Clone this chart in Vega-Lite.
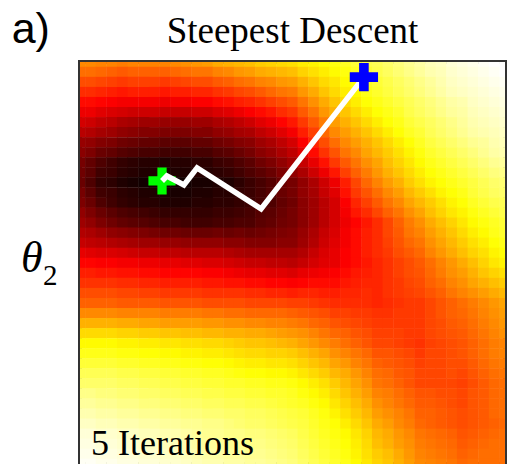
{
"$schema":"https://vega.github.io/schema/vega-lite/v6.json",
"width":425,"height":402,
"autosize":{"type":"none"},
"padding":{"left":80,"top":62,"right":3,"bottom":0},
"background":"white",
"config":{"view":{"stroke":"#333","strokeWidth":4}},
"datasets":{
"grid":[
{"x":0,"y":40,"z":57},{"x":1,"y":40,"z":57},{"x":2,"y":40,"z":56},{"x":3,"y":40,"z":56},{"x":4,"y":40,"z":55},{"x":5,"y":40,"z":56},{"x":6,"y":40,"z":56},{"x":7,"y":40,"z":56},{"x":8,"y":40,"z":56},{"x":9,"y":40,"z":57},{"x":10,"y":40,"z":58},{"x":11,"y":40,"z":59},{"x":12,"y":40,"z":60},{"x":13,"y":40,"z":62},{"x":14,"y":40,"z":63},{"x":15,"y":40,"z":64},{"x":16,"y":40,"z":65},{"x":17,"y":40,"z":67},{"x":18,"y":40,"z":68},{"x":19,"y":40,"z":69},{"x":20,"y":40,"z":70},{"x":21,"y":40,"z":72},{"x":22,"y":40,"z":73},{"x":23,"y":40,"z":75},{"x":24,"y":40,"z":76},{"x":25,"y":40,"z":78},{"x":26,"y":40,"z":80},{"x":27,"y":40,"z":82},{"x":28,"y":40,"z":83},{"x":29,"y":40,"z":85},{"x":30,"y":40,"z":87},{"x":31,"y":40,"z":89},{"x":32,"y":40,"z":91},{"x":33,"y":40,"z":93},{"x":34,"y":40,"z":94},{"x":35,"y":40,"z":96},{"x":36,"y":40,"z":97},{"x":37,"y":40,"z":98},{"x":38,"y":40,"z":99},{"x":39,"y":40,"z":100},{"x":40,"y":40,"z":100},
{"x":0,"y":39,"z":53},{"x":1,"y":39,"z":53},{"x":2,"y":39,"z":52},{"x":3,"y":39,"z":51},{"x":4,"y":39,"z":50},{"x":5,"y":39,"z":51},{"x":6,"y":39,"z":51},{"x":7,"y":39,"z":51},{"x":8,"y":39,"z":51},{"x":9,"y":39,"z":52},{"x":10,"y":39,"z":53},{"x":11,"y":39,"z":54},{"x":12,"y":39,"z":54},{"x":13,"y":39,"z":56},{"x":14,"y":39,"z":57},{"x":15,"y":39,"z":59},{"x":16,"y":39,"z":60},{"x":17,"y":39,"z":62},{"x":18,"y":39,"z":63},{"x":19,"y":39,"z":64},{"x":20,"y":39,"z":65},{"x":21,"y":39,"z":68},{"x":22,"y":39,"z":70},{"x":23,"y":39,"z":72},{"x":24,"y":39,"z":74},{"x":25,"y":39,"z":76},{"x":26,"y":39,"z":78},{"x":27,"y":39,"z":80},{"x":28,"y":39,"z":82},{"x":29,"y":39,"z":84},{"x":30,"y":39,"z":86},{"x":31,"y":39,"z":88},{"x":32,"y":39,"z":90},{"x":33,"y":39,"z":92},{"x":34,"y":39,"z":93},{"x":35,"y":39,"z":95},{"x":36,"y":39,"z":96},{"x":37,"y":39,"z":97},{"x":38,"y":39,"z":98},{"x":39,"y":39,"z":99},{"x":40,"y":39,"z":100},
{"x":0,"y":38,"z":48},{"x":1,"y":38,"z":48},{"x":2,"y":38,"z":47},{"x":3,"y":38,"z":46},{"x":4,"y":38,"z":45},{"x":5,"y":38,"z":46},{"x":6,"y":38,"z":46},{"x":7,"y":38,"z":46},{"x":8,"y":38,"z":45},{"x":9,"y":38,"z":46},{"x":10,"y":38,"z":47},{"x":11,"y":38,"z":48},{"x":12,"y":38,"z":48},{"x":13,"y":38,"z":50},{"x":14,"y":38,"z":51},{"x":15,"y":38,"z":53},{"x":16,"y":38,"z":54},{"x":17,"y":38,"z":56},{"x":18,"y":38,"z":57},{"x":19,"y":38,"z":59},{"x":20,"y":38,"z":60},{"x":21,"y":38,"z":63},{"x":22,"y":38,"z":66},{"x":23,"y":38,"z":69},{"x":24,"y":38,"z":71},{"x":25,"y":38,"z":74},{"x":26,"y":38,"z":76},{"x":27,"y":38,"z":78},{"x":28,"y":38,"z":80},{"x":29,"y":38,"z":82},{"x":30,"y":38,"z":84},{"x":31,"y":38,"z":86},{"x":32,"y":38,"z":88},{"x":33,"y":38,"z":90},{"x":34,"y":38,"z":92},{"x":35,"y":38,"z":94},{"x":36,"y":38,"z":95},{"x":37,"y":38,"z":96},{"x":38,"y":38,"z":97},{"x":39,"y":38,"z":98},{"x":40,"y":38,"z":99},
{"x":0,"y":37,"z":43},{"x":1,"y":37,"z":43},{"x":2,"y":37,"z":42},{"x":3,"y":37,"z":41},{"x":4,"y":37,"z":40},{"x":5,"y":37,"z":41},{"x":6,"y":37,"z":41},{"x":7,"y":37,"z":41},{"x":8,"y":37,"z":40},{"x":9,"y":37,"z":41},{"x":10,"y":37,"z":41},{"x":11,"y":37,"z":42},{"x":12,"y":37,"z":42},{"x":13,"y":37,"z":44},{"x":14,"y":37,"z":45},{"x":15,"y":37,"z":47},{"x":16,"y":37,"z":48},{"x":17,"y":37,"z":50},{"x":18,"y":37,"z":52},{"x":19,"y":37,"z":54},{"x":20,"y":37,"z":55},{"x":21,"y":37,"z":59},{"x":22,"y":37,"z":62},{"x":23,"y":37,"z":66},{"x":24,"y":37,"z":69},{"x":25,"y":37,"z":72},{"x":26,"y":37,"z":74},{"x":27,"y":37,"z":77},{"x":28,"y":37,"z":79},{"x":29,"y":37,"z":81},{"x":30,"y":37,"z":83},{"x":31,"y":37,"z":85},{"x":32,"y":37,"z":87},{"x":33,"y":37,"z":89},{"x":34,"y":37,"z":91},{"x":35,"y":37,"z":93},{"x":36,"y":37,"z":94},{"x":37,"y":37,"z":95},{"x":38,"y":37,"z":96},{"x":39,"y":37,"z":97},{"x":40,"y":37,"z":98},
{"x":0,"y":36,"z":38},{"x":1,"y":36,"z":38},{"x":2,"y":36,"z":37},{"x":3,"y":36,"z":36},{"x":4,"y":36,"z":35},{"x":5,"y":36,"z":35},{"x":6,"y":36,"z":35},{"x":7,"y":36,"z":35},{"x":8,"y":36,"z":34},{"x":9,"y":36,"z":35},{"x":10,"y":36,"z":35},{"x":11,"y":36,"z":36},{"x":12,"y":36,"z":36},{"x":13,"y":36,"z":38},{"x":14,"y":36,"z":39},{"x":15,"y":36,"z":41},{"x":16,"y":36,"z":42},{"x":17,"y":36,"z":44},{"x":18,"y":36,"z":46},{"x":19,"y":36,"z":48},{"x":20,"y":36,"z":50},{"x":21,"y":36,"z":54},{"x":22,"y":36,"z":58},{"x":23,"y":36,"z":62},{"x":24,"y":36,"z":66},{"x":25,"y":36,"z":69},{"x":26,"y":36,"z":72},{"x":27,"y":36,"z":75},{"x":28,"y":36,"z":77},{"x":29,"y":36,"z":79},{"x":30,"y":36,"z":81},{"x":31,"y":36,"z":83},{"x":32,"y":36,"z":85},{"x":33,"y":36,"z":87},{"x":34,"y":36,"z":89},{"x":35,"y":36,"z":91},{"x":36,"y":36,"z":92},{"x":37,"y":36,"z":94},{"x":38,"y":36,"z":95},{"x":39,"y":36,"z":96},{"x":40,"y":36,"z":97},
{"x":0,"y":35,"z":34},{"x":1,"y":35,"z":34},{"x":2,"y":35,"z":32},{"x":3,"y":35,"z":31},{"x":4,"y":35,"z":30},{"x":5,"y":35,"z":29},{"x":6,"y":35,"z":29},{"x":7,"y":35,"z":29},{"x":8,"y":35,"z":28},{"x":9,"y":35,"z":28},{"x":10,"y":35,"z":28},{"x":11,"y":35,"z":29},{"x":12,"y":35,"z":29},{"x":13,"y":35,"z":31},{"x":14,"y":35,"z":32},{"x":15,"y":35,"z":34},{"x":16,"y":35,"z":36},{"x":17,"y":35,"z":38},{"x":18,"y":35,"z":40},{"x":19,"y":35,"z":43},{"x":20,"y":35,"z":45},{"x":21,"y":35,"z":50},{"x":22,"y":35,"z":54},{"x":23,"y":35,"z":59},{"x":24,"y":35,"z":63},{"x":25,"y":35,"z":66},{"x":26,"y":35,"z":69},{"x":27,"y":35,"z":72},{"x":28,"y":35,"z":75},{"x":29,"y":35,"z":77},{"x":30,"y":35,"z":79},{"x":31,"y":35,"z":82},{"x":32,"y":35,"z":84},{"x":33,"y":35,"z":86},{"x":34,"y":35,"z":88},{"x":35,"y":35,"z":90},{"x":36,"y":35,"z":91},{"x":37,"y":35,"z":93},{"x":38,"y":35,"z":94},{"x":39,"y":35,"z":95},{"x":40,"y":35,"z":96},
{"x":0,"y":34,"z":30},{"x":1,"y":34,"z":29},{"x":2,"y":34,"z":27},{"x":3,"y":34,"z":26},{"x":4,"y":34,"z":24},{"x":5,"y":34,"z":23},{"x":6,"y":34,"z":22},{"x":7,"y":34,"z":22},{"x":8,"y":34,"z":21},{"x":9,"y":34,"z":21},{"x":10,"y":34,"z":21},{"x":11,"y":34,"z":22},{"x":12,"y":34,"z":22},{"x":13,"y":34,"z":24},{"x":14,"y":34,"z":25},{"x":15,"y":34,"z":27},{"x":16,"y":34,"z":29},{"x":17,"y":34,"z":32},{"x":18,"y":34,"z":34},{"x":19,"y":34,"z":37},{"x":20,"y":34,"z":40},{"x":21,"y":34,"z":45},{"x":22,"y":34,"z":50},{"x":23,"y":34,"z":55},{"x":24,"y":34,"z":60},{"x":25,"y":34,"z":63},{"x":26,"y":34,"z":66},{"x":27,"y":34,"z":69},{"x":28,"y":34,"z":72},{"x":29,"y":34,"z":75},{"x":30,"y":34,"z":77},{"x":31,"y":34,"z":80},{"x":32,"y":34,"z":82},{"x":33,"y":34,"z":84},{"x":34,"y":34,"z":86},{"x":35,"y":34,"z":88},{"x":36,"y":34,"z":90},{"x":37,"y":34,"z":92},{"x":38,"y":34,"z":93},{"x":39,"y":34,"z":94},{"x":40,"y":34,"z":95},
{"x":0,"y":33,"z":26},{"x":1,"y":33,"z":25},{"x":2,"y":33,"z":23},{"x":3,"y":33,"z":22},{"x":4,"y":33,"z":20},{"x":5,"y":33,"z":19},{"x":6,"y":33,"z":18},{"x":7,"y":33,"z":18},{"x":8,"y":33,"z":17},{"x":9,"y":33,"z":17},{"x":10,"y":33,"z":17},{"x":11,"y":33,"z":18},{"x":12,"y":33,"z":18},{"x":13,"y":33,"z":20},{"x":14,"y":33,"z":21},{"x":15,"y":33,"z":23},{"x":16,"y":33,"z":24},{"x":17,"y":33,"z":27},{"x":18,"y":33,"z":29},{"x":19,"y":33,"z":32},{"x":20,"y":33,"z":35},{"x":21,"y":33,"z":41},{"x":22,"y":33,"z":46},{"x":23,"y":33,"z":52},{"x":24,"y":33,"z":57},{"x":25,"y":33,"z":60},{"x":26,"y":33,"z":63},{"x":27,"y":33,"z":66},{"x":28,"y":33,"z":69},{"x":29,"y":33,"z":72},{"x":30,"y":33,"z":75},{"x":31,"y":33,"z":78},{"x":32,"y":33,"z":80},{"x":33,"y":33,"z":83},{"x":34,"y":33,"z":85},{"x":35,"y":33,"z":87},{"x":36,"y":33,"z":89},{"x":37,"y":33,"z":91},{"x":38,"y":33,"z":92},{"x":39,"y":33,"z":93},{"x":40,"y":33,"z":94},
{"x":0,"y":32,"z":21},{"x":1,"y":32,"z":20},{"x":2,"y":32,"z":18},{"x":3,"y":32,"z":17},{"x":4,"y":32,"z":15},{"x":5,"y":32,"z":14},{"x":6,"y":32,"z":13},{"x":7,"y":32,"z":13},{"x":8,"y":32,"z":12},{"x":9,"y":32,"z":12},{"x":10,"y":32,"z":12},{"x":11,"y":32,"z":13},{"x":12,"y":32,"z":13},{"x":13,"y":32,"z":15},{"x":14,"y":32,"z":16},{"x":15,"y":32,"z":18},{"x":16,"y":32,"z":19},{"x":17,"y":32,"z":22},{"x":18,"y":32,"z":24},{"x":19,"y":32,"z":27},{"x":20,"y":32,"z":30},{"x":21,"y":32,"z":36},{"x":22,"y":32,"z":42},{"x":23,"y":32,"z":48},{"x":24,"y":32,"z":53},{"x":25,"y":32,"z":57},{"x":26,"y":32,"z":60},{"x":27,"y":32,"z":63},{"x":28,"y":32,"z":66},{"x":29,"y":32,"z":69},{"x":30,"y":32,"z":72},{"x":31,"y":32,"z":75},{"x":32,"y":32,"z":78},{"x":33,"y":32,"z":81},{"x":34,"y":32,"z":83},{"x":35,"y":32,"z":85},{"x":36,"y":32,"z":87},{"x":37,"y":32,"z":89},{"x":38,"y":32,"z":90},{"x":39,"y":32,"z":92},{"x":40,"y":32,"z":93},
{"x":0,"y":31,"z":19},{"x":1,"y":31,"z":17},{"x":2,"y":31,"z":14},{"x":3,"y":31,"z":13},{"x":4,"y":31,"z":11},{"x":5,"y":31,"z":10},{"x":6,"y":31,"z":9},{"x":7,"y":31,"z":9},{"x":8,"y":31,"z":8},{"x":9,"y":31,"z":8},{"x":10,"y":31,"z":8},{"x":11,"y":31,"z":9},{"x":12,"y":31,"z":9},{"x":13,"y":31,"z":11},{"x":14,"y":31,"z":12},{"x":15,"y":31,"z":14},{"x":16,"y":31,"z":16},{"x":17,"y":31,"z":19},{"x":18,"y":31,"z":21},{"x":19,"y":31,"z":24},{"x":20,"y":31,"z":27},{"x":21,"y":31,"z":32},{"x":22,"y":31,"z":38},{"x":23,"y":31,"z":44},{"x":24,"y":31,"z":49},{"x":25,"y":31,"z":54},{"x":26,"y":31,"z":57},{"x":27,"y":31,"z":61},{"x":28,"y":31,"z":64},{"x":29,"y":31,"z":67},{"x":30,"y":31,"z":70},{"x":31,"y":31,"z":73},{"x":32,"y":31,"z":76},{"x":33,"y":31,"z":79},{"x":34,"y":31,"z":81},{"x":35,"y":31,"z":83},{"x":36,"y":31,"z":85},{"x":37,"y":31,"z":87},{"x":38,"y":31,"z":89},{"x":39,"y":31,"z":91},{"x":40,"y":31,"z":92},
{"x":0,"y":30,"z":16},{"x":1,"y":30,"z":13},{"x":2,"y":30,"z":10},{"x":3,"y":30,"z":8},{"x":4,"y":30,"z":6},{"x":5,"y":30,"z":5},{"x":6,"y":30,"z":4},{"x":7,"y":30,"z":4},{"x":8,"y":30,"z":3},{"x":9,"y":30,"z":4},{"x":10,"y":30,"z":4},{"x":11,"y":30,"z":5},{"x":12,"y":30,"z":5},{"x":13,"y":30,"z":7},{"x":14,"y":30,"z":8},{"x":15,"y":30,"z":10},{"x":16,"y":30,"z":12},{"x":17,"y":30,"z":15},{"x":18,"y":30,"z":17},{"x":19,"y":30,"z":20},{"x":20,"y":30,"z":23},{"x":21,"y":30,"z":28},{"x":22,"y":30,"z":33},{"x":23,"y":30,"z":39},{"x":24,"y":30,"z":45},{"x":25,"y":30,"z":50},{"x":26,"y":30,"z":54},{"x":27,"y":30,"z":58},{"x":28,"y":30,"z":61},{"x":29,"y":30,"z":65},{"x":30,"y":30,"z":68},{"x":31,"y":30,"z":71},{"x":32,"y":30,"z":74},{"x":33,"y":30,"z":77},{"x":34,"y":30,"z":79},{"x":35,"y":30,"z":81},{"x":36,"y":30,"z":83},{"x":37,"y":30,"z":85},{"x":38,"y":30,"z":87},{"x":39,"y":30,"z":89},{"x":40,"y":30,"z":90},
{"x":0,"y":29,"z":15},{"x":1,"y":29,"z":12},{"x":2,"y":29,"z":8},{"x":3,"y":29,"z":7},{"x":4,"y":29,"z":5},{"x":5,"y":29,"z":4},{"x":6,"y":29,"z":3},{"x":7,"y":29,"z":3},{"x":8,"y":29,"z":2},{"x":9,"y":29,"z":3},{"x":10,"y":29,"z":3},{"x":11,"y":29,"z":4},{"x":12,"y":29,"z":4},{"x":13,"y":29,"z":5},{"x":14,"y":29,"z":6},{"x":15,"y":29,"z":8},{"x":16,"y":29,"z":10},{"x":17,"y":29,"z":12},{"x":18,"y":29,"z":14},{"x":19,"y":29,"z":17},{"x":20,"y":29,"z":20},{"x":21,"y":29,"z":24},{"x":22,"y":29,"z":29},{"x":23,"y":29,"z":34},{"x":24,"y":29,"z":40},{"x":25,"y":29,"z":46},{"x":26,"y":29,"z":51},{"x":27,"y":29,"z":55},{"x":28,"y":29,"z":59},{"x":29,"y":29,"z":63},{"x":30,"y":29,"z":66},{"x":31,"y":29,"z":69},{"x":32,"y":29,"z":72},{"x":33,"y":29,"z":75},{"x":34,"y":29,"z":77},{"x":35,"y":29,"z":79},{"x":36,"y":29,"z":81},{"x":37,"y":29,"z":83},{"x":38,"y":29,"z":85},{"x":39,"y":29,"z":87},{"x":40,"y":29,"z":88},
{"x":0,"y":28,"z":14},{"x":1,"y":28,"z":10},{"x":2,"y":28,"z":6},{"x":3,"y":28,"z":5},{"x":4,"y":28,"z":3},{"x":5,"y":28,"z":2},{"x":6,"y":28,"z":1},{"x":7,"y":28,"z":1},{"x":8,"y":28,"z":0},{"x":9,"y":28,"z":1},{"x":10,"y":28,"z":1},{"x":11,"y":28,"z":2},{"x":12,"y":28,"z":2},{"x":13,"y":28,"z":3},{"x":14,"y":28,"z":3},{"x":15,"y":28,"z":5},{"x":16,"y":28,"z":7},{"x":17,"y":28,"z":9},{"x":18,"y":28,"z":11},{"x":19,"y":28,"z":14},{"x":20,"y":28,"z":16},{"x":21,"y":28,"z":20},{"x":22,"y":28,"z":24},{"x":23,"y":28,"z":29},{"x":24,"y":28,"z":34},{"x":25,"y":28,"z":41},{"x":26,"y":28,"z":47},{"x":27,"y":28,"z":52},{"x":28,"y":28,"z":56},{"x":29,"y":28,"z":60},{"x":30,"y":28,"z":63},{"x":31,"y":28,"z":67},{"x":32,"y":28,"z":70},{"x":33,"y":28,"z":73},{"x":34,"y":28,"z":75},{"x":35,"y":28,"z":77},{"x":36,"y":28,"z":79},{"x":37,"y":28,"z":81},{"x":38,"y":28,"z":83},{"x":39,"y":28,"z":85},{"x":40,"y":28,"z":86},
{"x":0,"y":27,"z":16},{"x":1,"y":27,"z":12},{"x":2,"y":27,"z":8},{"x":3,"y":27,"z":7},{"x":4,"y":27,"z":5},{"x":5,"y":27,"z":4},{"x":6,"y":27,"z":3},{"x":7,"y":27,"z":3},{"x":8,"y":27,"z":2},{"x":9,"y":27,"z":2},{"x":10,"y":27,"z":2},{"x":11,"y":27,"z":3},{"x":12,"y":27,"z":3},{"x":13,"y":27,"z":4},{"x":14,"y":27,"z":4},{"x":15,"y":27,"z":6},{"x":16,"y":27,"z":7},{"x":17,"y":27,"z":9},{"x":18,"y":27,"z":11},{"x":19,"y":27,"z":14},{"x":20,"y":27,"z":16},{"x":21,"y":27,"z":20},{"x":22,"y":27,"z":23},{"x":23,"y":27,"z":28},{"x":24,"y":27,"z":32},{"x":25,"y":27,"z":39},{"x":26,"y":27,"z":45},{"x":27,"y":27,"z":49},{"x":28,"y":27,"z":53},{"x":29,"y":27,"z":57},{"x":30,"y":27,"z":60},{"x":31,"y":27,"z":64},{"x":32,"y":27,"z":67},{"x":33,"y":27,"z":70},{"x":34,"y":27,"z":73},{"x":35,"y":27,"z":75},{"x":36,"y":27,"z":77},{"x":37,"y":27,"z":80},{"x":38,"y":27,"z":82},{"x":39,"y":27,"z":84},{"x":40,"y":27,"z":85},
{"x":0,"y":26,"z":17},{"x":1,"y":26,"z":14},{"x":2,"y":26,"z":10},{"x":3,"y":26,"z":8},{"x":4,"y":26,"z":6},{"x":5,"y":26,"z":5},{"x":6,"y":26,"z":4},{"x":7,"y":26,"z":4},{"x":8,"y":26,"z":3},{"x":9,"y":26,"z":3},{"x":10,"y":26,"z":3},{"x":11,"y":26,"z":4},{"x":12,"y":26,"z":4},{"x":13,"y":26,"z":5},{"x":14,"y":26,"z":5},{"x":15,"y":26,"z":6},{"x":16,"y":26,"z":7},{"x":17,"y":26,"z":9},{"x":18,"y":26,"z":10},{"x":19,"y":26,"z":13},{"x":20,"y":26,"z":15},{"x":21,"y":26,"z":19},{"x":22,"y":26,"z":22},{"x":23,"y":26,"z":26},{"x":24,"y":26,"z":30},{"x":25,"y":26,"z":36},{"x":26,"y":26,"z":42},{"x":27,"y":26,"z":46},{"x":28,"y":26,"z":50},{"x":29,"y":26,"z":54},{"x":30,"y":26,"z":57},{"x":31,"y":26,"z":61},{"x":32,"y":26,"z":64},{"x":33,"y":26,"z":67},{"x":34,"y":26,"z":70},{"x":35,"y":26,"z":73},{"x":36,"y":26,"z":75},{"x":37,"y":26,"z":78},{"x":38,"y":26,"z":80},{"x":39,"y":26,"z":82},{"x":40,"y":26,"z":83},
{"x":0,"y":25,"z":20},{"x":1,"y":25,"z":17},{"x":2,"y":25,"z":14},{"x":3,"y":25,"z":12},{"x":4,"y":25,"z":10},{"x":5,"y":25,"z":9},{"x":6,"y":25,"z":8},{"x":7,"y":25,"z":7},{"x":8,"y":25,"z":6},{"x":9,"y":25,"z":6},{"x":10,"y":25,"z":6},{"x":11,"y":25,"z":6},{"x":12,"y":25,"z":6},{"x":13,"y":25,"z":7},{"x":14,"y":25,"z":7},{"x":15,"y":25,"z":8},{"x":16,"y":25,"z":9},{"x":17,"y":25,"z":11},{"x":18,"y":25,"z":12},{"x":19,"y":25,"z":14},{"x":20,"y":25,"z":16},{"x":21,"y":25,"z":19},{"x":22,"y":25,"z":22},{"x":23,"y":25,"z":26},{"x":24,"y":25,"z":30},{"x":25,"y":25,"z":35},{"x":26,"y":25,"z":40},{"x":27,"y":25,"z":43},{"x":28,"y":25,"z":47},{"x":29,"y":25,"z":51},{"x":30,"y":25,"z":54},{"x":31,"y":25,"z":58},{"x":32,"y":25,"z":61},{"x":33,"y":25,"z":65},{"x":34,"y":25,"z":68},{"x":35,"y":25,"z":71},{"x":36,"y":25,"z":73},{"x":37,"y":25,"z":76},{"x":38,"y":25,"z":78},{"x":39,"y":25,"z":80},{"x":40,"y":25,"z":82},
{"x":0,"y":24,"z":22},{"x":1,"y":24,"z":20},{"x":2,"y":24,"z":17},{"x":3,"y":24,"z":15},{"x":4,"y":24,"z":13},{"x":5,"y":24,"z":12},{"x":6,"y":24,"z":11},{"x":7,"y":24,"z":10},{"x":8,"y":24,"z":9},{"x":9,"y":24,"z":9},{"x":10,"y":24,"z":8},{"x":11,"y":24,"z":8},{"x":12,"y":24,"z":8},{"x":13,"y":24,"z":9},{"x":14,"y":24,"z":9},{"x":15,"y":24,"z":10},{"x":16,"y":24,"z":10},{"x":17,"y":24,"z":12},{"x":18,"y":24,"z":13},{"x":19,"y":24,"z":15},{"x":20,"y":24,"z":16},{"x":21,"y":24,"z":19},{"x":22,"y":24,"z":22},{"x":23,"y":24,"z":26},{"x":24,"y":24,"z":30},{"x":25,"y":24,"z":34},{"x":26,"y":24,"z":37},{"x":27,"y":24,"z":40},{"x":28,"y":24,"z":43},{"x":29,"y":24,"z":47},{"x":30,"y":24,"z":51},{"x":31,"y":24,"z":55},{"x":32,"y":24,"z":58},{"x":33,"y":24,"z":62},{"x":34,"y":24,"z":65},{"x":35,"y":24,"z":68},{"x":36,"y":24,"z":71},{"x":37,"y":24,"z":74},{"x":38,"y":24,"z":76},{"x":39,"y":24,"z":78},{"x":40,"y":24,"z":80},
{"x":0,"y":23,"z":25},{"x":1,"y":23,"z":24},{"x":2,"y":23,"z":22},{"x":3,"y":23,"z":20},{"x":4,"y":23,"z":19},{"x":5,"y":23,"z":18},{"x":6,"y":23,"z":17},{"x":7,"y":23,"z":16},{"x":8,"y":23,"z":15},{"x":9,"y":23,"z":15},{"x":10,"y":23,"z":14},{"x":11,"y":23,"z":14},{"x":12,"y":23,"z":14},{"x":13,"y":23,"z":15},{"x":14,"y":23,"z":14},{"x":15,"y":23,"z":15},{"x":16,"y":23,"z":14},{"x":17,"y":23,"z":15},{"x":18,"y":23,"z":16},{"x":19,"y":23,"z":17},{"x":20,"y":23,"z":18},{"x":21,"y":23,"z":21},{"x":22,"y":23,"z":24},{"x":23,"y":23,"z":28},{"x":24,"y":23,"z":31},{"x":25,"y":23,"z":35},{"x":26,"y":23,"z":38},{"x":27,"y":23,"z":41},{"x":28,"y":23,"z":43},{"x":29,"y":23,"z":47},{"x":30,"y":23,"z":50},{"x":31,"y":23,"z":54},{"x":32,"y":23,"z":56},{"x":33,"y":23,"z":60},{"x":34,"y":23,"z":63},{"x":35,"y":23,"z":66},{"x":36,"y":23,"z":69},{"x":37,"y":23,"z":72},{"x":38,"y":23,"z":74},{"x":39,"y":23,"z":77},{"x":40,"y":23,"z":79},
{"x":0,"y":22,"z":28},{"x":1,"y":22,"z":27},{"x":2,"y":22,"z":26},{"x":3,"y":22,"z":25},{"x":4,"y":22,"z":24},{"x":5,"y":22,"z":23},{"x":6,"y":22,"z":22},{"x":7,"y":22,"z":22},{"x":8,"y":22,"z":21},{"x":9,"y":22,"z":21},{"x":10,"y":22,"z":20},{"x":11,"y":22,"z":20},{"x":12,"y":22,"z":20},{"x":13,"y":22,"z":20},{"x":14,"y":22,"z":19},{"x":15,"y":22,"z":19},{"x":16,"y":22,"z":18},{"x":17,"y":22,"z":18},{"x":18,"y":22,"z":18},{"x":19,"y":22,"z":19},{"x":20,"y":22,"z":19},{"x":21,"y":22,"z":22},{"x":22,"y":22,"z":25},{"x":23,"y":22,"z":29},{"x":24,"y":22,"z":32},{"x":25,"y":22,"z":35},{"x":26,"y":22,"z":38},{"x":27,"y":22,"z":41},{"x":28,"y":22,"z":43},{"x":29,"y":22,"z":46},{"x":30,"y":22,"z":49},{"x":31,"y":22,"z":52},{"x":32,"y":22,"z":54},{"x":33,"y":22,"z":58},{"x":34,"y":22,"z":61},{"x":35,"y":22,"z":64},{"x":36,"y":22,"z":67},{"x":37,"y":22,"z":70},{"x":38,"y":22,"z":72},{"x":39,"y":22,"z":75},{"x":40,"y":22,"z":77},
{"x":0,"y":21,"z":33},{"x":1,"y":21,"z":32},{"x":2,"y":21,"z":31},{"x":3,"y":21,"z":31},{"x":4,"y":21,"z":30},{"x":5,"y":21,"z":29},{"x":6,"y":21,"z":28},{"x":7,"y":21,"z":28},{"x":8,"y":21,"z":27},{"x":9,"y":21,"z":27},{"x":10,"y":21,"z":26},{"x":11,"y":21,"z":26},{"x":12,"y":21,"z":26},{"x":13,"y":21,"z":26},{"x":14,"y":21,"z":25},{"x":15,"y":21,"z":24},{"x":16,"y":21,"z":23},{"x":17,"y":21,"z":23},{"x":18,"y":21,"z":23},{"x":19,"y":21,"z":23},{"x":20,"y":21,"z":23},{"x":21,"y":21,"z":25},{"x":22,"y":21,"z":28},{"x":23,"y":21,"z":31},{"x":24,"y":21,"z":33},{"x":25,"y":21,"z":36},{"x":26,"y":21,"z":38},{"x":27,"y":21,"z":41},{"x":28,"y":21,"z":43},{"x":29,"y":21,"z":45},{"x":30,"y":21,"z":48},{"x":31,"y":21,"z":50},{"x":32,"y":21,"z":52},{"x":33,"y":21,"z":56},{"x":34,"y":21,"z":59},{"x":35,"y":21,"z":62},{"x":36,"y":21,"z":65},{"x":37,"y":21,"z":68},{"x":38,"y":21,"z":70},{"x":39,"y":21,"z":73},{"x":40,"y":21,"z":75},
{"x":0,"y":20,"z":37},{"x":1,"y":20,"z":37},{"x":2,"y":20,"z":36},{"x":3,"y":20,"z":36},{"x":4,"y":20,"z":35},{"x":5,"y":20,"z":35},{"x":6,"y":20,"z":34},{"x":7,"y":20,"z":34},{"x":8,"y":20,"z":33},{"x":9,"y":20,"z":33},{"x":10,"y":20,"z":32},{"x":11,"y":20,"z":32},{"x":12,"y":20,"z":31},{"x":13,"y":20,"z":31},{"x":14,"y":20,"z":30},{"x":15,"y":20,"z":29},{"x":16,"y":20,"z":28},{"x":17,"y":20,"z":28},{"x":18,"y":20,"z":27},{"x":19,"y":20,"z":27},{"x":20,"y":20,"z":26},{"x":21,"y":20,"z":28},{"x":22,"y":20,"z":30},{"x":23,"y":20,"z":32},{"x":24,"y":20,"z":33},{"x":25,"y":20,"z":36},{"x":26,"y":20,"z":38},{"x":27,"y":20,"z":40},{"x":28,"y":20,"z":42},{"x":29,"y":20,"z":44},{"x":30,"y":20,"z":46},{"x":31,"y":20,"z":48},{"x":32,"y":20,"z":50},{"x":33,"y":20,"z":53},{"x":34,"y":20,"z":56},{"x":35,"y":20,"z":59},{"x":36,"y":20,"z":62},{"x":37,"y":20,"z":65},{"x":38,"y":20,"z":68},{"x":39,"y":20,"z":71},{"x":40,"y":20,"z":73},
{"x":0,"y":19,"z":41},{"x":1,"y":19,"z":41},{"x":2,"y":19,"z":40},{"x":3,"y":19,"z":40},{"x":4,"y":19,"z":39},{"x":5,"y":19,"z":39},{"x":6,"y":19,"z":38},{"x":7,"y":19,"z":38},{"x":8,"y":19,"z":37},{"x":9,"y":19,"z":37},{"x":10,"y":19,"z":37},{"x":11,"y":19,"z":37},{"x":12,"y":19,"z":36},{"x":13,"y":19,"z":36},{"x":14,"y":19,"z":35},{"x":15,"y":19,"z":34},{"x":16,"y":19,"z":33},{"x":17,"y":19,"z":33},{"x":18,"y":19,"z":32},{"x":19,"y":19,"z":32},{"x":20,"y":19,"z":31},{"x":21,"y":19,"z":33},{"x":22,"y":19,"z":34},{"x":23,"y":19,"z":35},{"x":24,"y":19,"z":36},{"x":25,"y":19,"z":38},{"x":26,"y":19,"z":40},{"x":27,"y":19,"z":41},{"x":28,"y":19,"z":42},{"x":29,"y":19,"z":44},{"x":30,"y":19,"z":46},{"x":31,"y":19,"z":48},{"x":32,"y":19,"z":49},{"x":33,"y":19,"z":52},{"x":34,"y":19,"z":55},{"x":35,"y":19,"z":58},{"x":36,"y":19,"z":60},{"x":37,"y":19,"z":63},{"x":38,"y":19,"z":66},{"x":39,"y":19,"z":68},{"x":40,"y":19,"z":70},
{"x":0,"y":18,"z":44},{"x":1,"y":18,"z":44},{"x":2,"y":18,"z":44},{"x":3,"y":18,"z":44},{"x":4,"y":18,"z":43},{"x":5,"y":18,"z":43},{"x":6,"y":18,"z":42},{"x":7,"y":18,"z":42},{"x":8,"y":18,"z":41},{"x":9,"y":18,"z":41},{"x":10,"y":18,"z":41},{"x":11,"y":18,"z":41},{"x":12,"y":18,"z":40},{"x":13,"y":18,"z":40},{"x":14,"y":18,"z":39},{"x":15,"y":18,"z":39},{"x":16,"y":18,"z":38},{"x":17,"y":18,"z":38},{"x":18,"y":18,"z":37},{"x":19,"y":18,"z":37},{"x":20,"y":18,"z":36},{"x":21,"y":18,"z":37},{"x":22,"y":18,"z":38},{"x":23,"y":18,"z":38},{"x":24,"y":18,"z":38},{"x":25,"y":18,"z":40},{"x":26,"y":18,"z":41},{"x":27,"y":18,"z":42},{"x":28,"y":18,"z":42},{"x":29,"y":18,"z":44},{"x":30,"y":18,"z":45},{"x":31,"y":18,"z":47},{"x":32,"y":18,"z":48},{"x":33,"y":18,"z":51},{"x":34,"y":18,"z":53},{"x":35,"y":18,"z":56},{"x":36,"y":18,"z":58},{"x":37,"y":18,"z":61},{"x":38,"y":18,"z":63},{"x":39,"y":18,"z":65},{"x":40,"y":18,"z":67},
{"x":0,"y":17,"z":48},{"x":1,"y":17,"z":48},{"x":2,"y":17,"z":48},{"x":3,"y":17,"z":48},{"x":4,"y":17,"z":47},{"x":5,"y":17,"z":47},{"x":6,"y":17,"z":46},{"x":7,"y":17,"z":46},{"x":8,"y":17,"z":45},{"x":9,"y":17,"z":45},{"x":10,"y":17,"z":45},{"x":11,"y":17,"z":45},{"x":12,"y":17,"z":44},{"x":13,"y":17,"z":44},{"x":14,"y":17,"z":44},{"x":15,"y":17,"z":44},{"x":16,"y":17,"z":43},{"x":17,"y":17,"z":43},{"x":18,"y":17,"z":42},{"x":19,"y":17,"z":42},{"x":20,"y":17,"z":41},{"x":21,"y":17,"z":42},{"x":22,"y":17,"z":42},{"x":23,"y":17,"z":41},{"x":24,"y":17,"z":41},{"x":25,"y":17,"z":42},{"x":26,"y":17,"z":42},{"x":27,"y":17,"z":43},{"x":28,"y":17,"z":42},{"x":29,"y":17,"z":44},{"x":30,"y":17,"z":45},{"x":31,"y":17,"z":46},{"x":32,"y":17,"z":47},{"x":33,"y":17,"z":49},{"x":34,"y":17,"z":51},{"x":35,"y":17,"z":54},{"x":36,"y":17,"z":56},{"x":37,"y":17,"z":58},{"x":38,"y":17,"z":60},{"x":39,"y":17,"z":62},{"x":40,"y":17,"z":64},
{"x":0,"y":16,"z":51},{"x":1,"y":16,"z":51},{"x":2,"y":16,"z":51},{"x":3,"y":16,"z":51},{"x":4,"y":16,"z":50},{"x":5,"y":16,"z":50},{"x":6,"y":16,"z":50},{"x":7,"y":16,"z":50},{"x":8,"y":16,"z":49},{"x":9,"y":16,"z":49},{"x":10,"y":16,"z":49},{"x":11,"y":16,"z":49},{"x":12,"y":16,"z":48},{"x":13,"y":16,"z":48},{"x":14,"y":16,"z":48},{"x":15,"y":16,"z":48},{"x":16,"y":16,"z":47},{"x":17,"y":16,"z":47},{"x":18,"y":16,"z":47},{"x":19,"y":16,"z":47},{"x":20,"y":16,"z":46},{"x":21,"y":16,"z":46},{"x":22,"y":16,"z":45},{"x":23,"y":16,"z":44},{"x":24,"y":16,"z":43},{"x":25,"y":16,"z":43},{"x":26,"y":16,"z":43},{"x":27,"y":16,"z":43},{"x":28,"y":16,"z":42},{"x":29,"y":16,"z":43},{"x":30,"y":16,"z":44},{"x":31,"y":16,"z":45},{"x":32,"y":16,"z":45},{"x":33,"y":16,"z":47},{"x":34,"y":16,"z":49},{"x":35,"y":16,"z":51},{"x":36,"y":16,"z":53},{"x":37,"y":16,"z":55},{"x":38,"y":16,"z":57},{"x":39,"y":16,"z":59},{"x":40,"y":16,"z":61},
{"x":0,"y":15,"z":57},{"x":1,"y":15,"z":57},{"x":2,"y":15,"z":57},{"x":3,"y":15,"z":57},{"x":4,"y":15,"z":56},{"x":5,"y":15,"z":56},{"x":6,"y":15,"z":56},{"x":7,"y":15,"z":56},{"x":8,"y":15,"z":55},{"x":9,"y":15,"z":55},{"x":10,"y":15,"z":55},{"x":11,"y":15,"z":55},{"x":12,"y":15,"z":54},{"x":13,"y":15,"z":54},{"x":14,"y":15,"z":53},{"x":15,"y":15,"z":53},{"x":16,"y":15,"z":52},{"x":17,"y":15,"z":52},{"x":18,"y":15,"z":52},{"x":19,"y":15,"z":52},{"x":20,"y":15,"z":51},{"x":21,"y":15,"z":50},{"x":22,"y":15,"z":49},{"x":23,"y":15,"z":48},{"x":24,"y":15,"z":46},{"x":25,"y":15,"z":46},{"x":26,"y":15,"z":45},{"x":27,"y":15,"z":45},{"x":28,"y":15,"z":44},{"x":29,"y":15,"z":44},{"x":30,"y":15,"z":45},{"x":31,"y":15,"z":45},{"x":32,"y":15,"z":45},{"x":33,"y":15,"z":47},{"x":34,"y":15,"z":49},{"x":35,"y":15,"z":51},{"x":36,"y":15,"z":52},{"x":37,"y":15,"z":54},{"x":38,"y":15,"z":56},{"x":39,"y":15,"z":58},{"x":40,"y":15,"z":60},
{"x":0,"y":14,"z":63},{"x":1,"y":14,"z":63},{"x":2,"y":14,"z":63},{"x":3,"y":14,"z":63},{"x":4,"y":14,"z":62},{"x":5,"y":14,"z":62},{"x":6,"y":14,"z":61},{"x":7,"y":14,"z":61},{"x":8,"y":14,"z":60},{"x":9,"y":14,"z":60},{"x":10,"y":14,"z":60},{"x":11,"y":14,"z":60},{"x":12,"y":14,"z":59},{"x":13,"y":14,"z":59},{"x":14,"y":14,"z":58},{"x":15,"y":14,"z":58},{"x":16,"y":14,"z":57},{"x":17,"y":14,"z":57},{"x":18,"y":14,"z":56},{"x":19,"y":14,"z":56},{"x":20,"y":14,"z":55},{"x":21,"y":14,"z":54},{"x":22,"y":14,"z":52},{"x":23,"y":14,"z":51},{"x":24,"y":14,"z":49},{"x":25,"y":14,"z":48},{"x":26,"y":14,"z":47},{"x":27,"y":14,"z":46},{"x":28,"y":14,"z":45},{"x":29,"y":14,"z":45},{"x":30,"y":14,"z":45},{"x":31,"y":14,"z":45},{"x":32,"y":14,"z":45},{"x":33,"y":14,"z":47},{"x":34,"y":14,"z":48},{"x":35,"y":14,"z":50},{"x":36,"y":14,"z":51},{"x":37,"y":14,"z":53},{"x":38,"y":14,"z":55},{"x":39,"y":14,"z":57},{"x":40,"y":14,"z":59},
{"x":0,"y":13,"z":69},{"x":1,"y":13,"z":69},{"x":2,"y":13,"z":69},{"x":3,"y":13,"z":69},{"x":4,"y":13,"z":68},{"x":5,"y":13,"z":68},{"x":6,"y":13,"z":67},{"x":7,"y":13,"z":67},{"x":8,"y":13,"z":66},{"x":9,"y":13,"z":66},{"x":10,"y":13,"z":65},{"x":11,"y":13,"z":65},{"x":12,"y":13,"z":64},{"x":13,"y":13,"z":64},{"x":14,"y":13,"z":63},{"x":15,"y":13,"z":63},{"x":16,"y":13,"z":62},{"x":17,"y":13,"z":62},{"x":18,"y":13,"z":61},{"x":19,"y":13,"z":60},{"x":20,"y":13,"z":59},{"x":21,"y":13,"z":58},{"x":22,"y":13,"z":56},{"x":23,"y":13,"z":54},{"x":24,"y":13,"z":52},{"x":25,"y":13,"z":51},{"x":26,"y":13,"z":49},{"x":27,"y":13,"z":48},{"x":28,"y":13,"z":46},{"x":29,"y":13,"z":46},{"x":30,"y":13,"z":46},{"x":31,"y":13,"z":45},{"x":32,"y":13,"z":45},{"x":33,"y":13,"z":47},{"x":34,"y":13,"z":48},{"x":35,"y":13,"z":49},{"x":36,"y":13,"z":50},{"x":37,"y":13,"z":52},{"x":38,"y":13,"z":54},{"x":39,"y":13,"z":56},{"x":40,"y":13,"z":58},
{"x":0,"y":12,"z":74},{"x":1,"y":12,"z":74},{"x":2,"y":12,"z":74},{"x":3,"y":12,"z":74},{"x":4,"y":12,"z":73},{"x":5,"y":12,"z":73},{"x":6,"y":12,"z":72},{"x":7,"y":12,"z":72},{"x":8,"y":12,"z":71},{"x":9,"y":12,"z":71},{"x":10,"y":12,"z":70},{"x":11,"y":12,"z":70},{"x":12,"y":12,"z":69},{"x":13,"y":12,"z":69},{"x":14,"y":12,"z":68},{"x":15,"y":12,"z":67},{"x":16,"y":12,"z":66},{"x":17,"y":12,"z":66},{"x":18,"y":12,"z":65},{"x":19,"y":12,"z":64},{"x":20,"y":12,"z":63},{"x":21,"y":12,"z":61},{"x":22,"y":12,"z":59},{"x":23,"y":12,"z":57},{"x":24,"y":12,"z":55},{"x":25,"y":12,"z":53},{"x":26,"y":12,"z":51},{"x":27,"y":12,"z":49},{"x":28,"y":12,"z":47},{"x":29,"y":12,"z":47},{"x":30,"y":12,"z":46},{"x":31,"y":12,"z":45},{"x":32,"y":12,"z":44},{"x":33,"y":12,"z":46},{"x":34,"y":12,"z":47},{"x":35,"y":12,"z":48},{"x":36,"y":12,"z":49},{"x":37,"y":12,"z":51},{"x":38,"y":12,"z":53},{"x":39,"y":12,"z":55},{"x":40,"y":12,"z":56},
{"x":0,"y":11,"z":77},{"x":1,"y":11,"z":77},{"x":2,"y":11,"z":77},{"x":3,"y":11,"z":77},{"x":4,"y":11,"z":76},{"x":5,"y":11,"z":76},{"x":6,"y":11,"z":75},{"x":7,"y":11,"z":75},{"x":8,"y":11,"z":74},{"x":9,"y":11,"z":74},{"x":10,"y":11,"z":73},{"x":11,"y":11,"z":73},{"x":12,"y":11,"z":72},{"x":13,"y":11,"z":72},{"x":14,"y":11,"z":71},{"x":15,"y":11,"z":70},{"x":16,"y":11,"z":69},{"x":17,"y":11,"z":69},{"x":18,"y":11,"z":68},{"x":19,"y":11,"z":68},{"x":20,"y":11,"z":67},{"x":21,"y":11,"z":65},{"x":22,"y":11,"z":63},{"x":23,"y":11,"z":61},{"x":24,"y":11,"z":58},{"x":25,"y":11,"z":56},{"x":26,"y":11,"z":54},{"x":27,"y":11,"z":52},{"x":28,"y":11,"z":49},{"x":29,"y":11,"z":49},{"x":30,"y":11,"z":48},{"x":31,"y":11,"z":47},{"x":32,"y":11,"z":45},{"x":33,"y":11,"z":47},{"x":34,"y":11,"z":47},{"x":35,"y":11,"z":48},{"x":36,"y":11,"z":49},{"x":37,"y":11,"z":51},{"x":38,"y":11,"z":53},{"x":39,"y":11,"z":55},{"x":40,"y":11,"z":56},
{"x":0,"y":10,"z":80},{"x":1,"y":10,"z":80},{"x":2,"y":10,"z":80},{"x":3,"y":10,"z":80},{"x":4,"y":10,"z":79},{"x":5,"y":10,"z":79},{"x":6,"y":10,"z":78},{"x":7,"y":10,"z":78},{"x":8,"y":10,"z":77},{"x":9,"y":10,"z":77},{"x":10,"y":10,"z":76},{"x":11,"y":10,"z":76},{"x":12,"y":10,"z":75},{"x":13,"y":10,"z":75},{"x":14,"y":10,"z":74},{"x":15,"y":10,"z":73},{"x":16,"y":10,"z":72},{"x":17,"y":10,"z":72},{"x":18,"y":10,"z":71},{"x":19,"y":10,"z":71},{"x":20,"y":10,"z":70},{"x":21,"y":10,"z":68},{"x":22,"y":10,"z":66},{"x":23,"y":10,"z":64},{"x":24,"y":10,"z":61},{"x":25,"y":10,"z":59},{"x":26,"y":10,"z":56},{"x":27,"y":10,"z":54},{"x":28,"y":10,"z":51},{"x":29,"y":10,"z":50},{"x":30,"y":10,"z":49},{"x":31,"y":10,"z":48},{"x":32,"y":10,"z":46},{"x":33,"y":10,"z":47},{"x":34,"y":10,"z":47},{"x":35,"y":10,"z":48},{"x":36,"y":10,"z":48},{"x":37,"y":10,"z":50},{"x":38,"y":10,"z":52},{"x":39,"y":10,"z":54},{"x":40,"y":10,"z":55},
{"x":0,"y":9,"z":83},{"x":1,"y":9,"z":83},{"x":2,"y":9,"z":83},{"x":3,"y":9,"z":83},{"x":4,"y":9,"z":82},{"x":5,"y":9,"z":82},{"x":6,"y":9,"z":81},{"x":7,"y":9,"z":81},{"x":8,"y":9,"z":80},{"x":9,"y":9,"z":80},{"x":10,"y":9,"z":79},{"x":11,"y":9,"z":79},{"x":12,"y":9,"z":78},{"x":13,"y":9,"z":78},{"x":14,"y":9,"z":77},{"x":15,"y":9,"z":76},{"x":16,"y":9,"z":75},{"x":17,"y":9,"z":75},{"x":18,"y":9,"z":74},{"x":19,"y":9,"z":74},{"x":20,"y":9,"z":73},{"x":21,"y":9,"z":71},{"x":22,"y":9,"z":69},{"x":23,"y":9,"z":67},{"x":24,"y":9,"z":64},{"x":25,"y":9,"z":62},{"x":26,"y":9,"z":59},{"x":27,"y":9,"z":56},{"x":28,"y":9,"z":53},{"x":29,"y":9,"z":52},{"x":30,"y":9,"z":50},{"x":31,"y":9,"z":49},{"x":32,"y":9,"z":47},{"x":33,"y":9,"z":47},{"x":34,"y":9,"z":47},{"x":35,"y":9,"z":48},{"x":36,"y":9,"z":47},{"x":37,"y":9,"z":49},{"x":38,"y":9,"z":51},{"x":39,"y":9,"z":53},{"x":40,"y":9,"z":54},
{"x":0,"y":8,"z":85},{"x":1,"y":8,"z":85},{"x":2,"y":8,"z":85},{"x":3,"y":8,"z":85},{"x":4,"y":8,"z":84},{"x":5,"y":8,"z":84},{"x":6,"y":8,"z":83},{"x":7,"y":8,"z":83},{"x":8,"y":8,"z":82},{"x":9,"y":8,"z":82},{"x":10,"y":8,"z":81},{"x":11,"y":8,"z":81},{"x":12,"y":8,"z":80},{"x":13,"y":8,"z":80},{"x":14,"y":8,"z":79},{"x":15,"y":8,"z":79},{"x":16,"y":8,"z":78},{"x":17,"y":8,"z":78},{"x":18,"y":8,"z":77},{"x":19,"y":8,"z":77},{"x":20,"y":8,"z":76},{"x":21,"y":8,"z":74},{"x":22,"y":8,"z":72},{"x":23,"y":8,"z":70},{"x":24,"y":8,"z":67},{"x":25,"y":8,"z":64},{"x":26,"y":8,"z":61},{"x":27,"y":8,"z":58},{"x":28,"y":8,"z":54},{"x":29,"y":8,"z":53},{"x":30,"y":8,"z":51},{"x":31,"y":8,"z":49},{"x":32,"y":8,"z":47},{"x":33,"y":8,"z":47},{"x":34,"y":8,"z":47},{"x":35,"y":8,"z":47},{"x":36,"y":8,"z":46},{"x":37,"y":8,"z":48},{"x":38,"y":8,"z":50},{"x":39,"y":8,"z":52},{"x":40,"y":8,"z":53},
{"x":0,"y":7,"z":88},{"x":1,"y":7,"z":88},{"x":2,"y":7,"z":87},{"x":3,"y":7,"z":87},{"x":4,"y":7,"z":86},{"x":5,"y":7,"z":86},{"x":6,"y":7,"z":85},{"x":7,"y":7,"z":85},{"x":8,"y":7,"z":84},{"x":9,"y":7,"z":84},{"x":10,"y":7,"z":83},{"x":11,"y":7,"z":83},{"x":12,"y":7,"z":82},{"x":13,"y":7,"z":82},{"x":14,"y":7,"z":81},{"x":15,"y":7,"z":81},{"x":16,"y":7,"z":80},{"x":17,"y":7,"z":80},{"x":18,"y":7,"z":79},{"x":19,"y":7,"z":79},{"x":20,"y":7,"z":78},{"x":21,"y":7,"z":76},{"x":22,"y":7,"z":74},{"x":23,"y":7,"z":72},{"x":24,"y":7,"z":69},{"x":25,"y":7,"z":66},{"x":26,"y":7,"z":63},{"x":27,"y":7,"z":60},{"x":28,"y":7,"z":56},{"x":29,"y":7,"z":55},{"x":30,"y":7,"z":53},{"x":31,"y":7,"z":51},{"x":32,"y":7,"z":49},{"x":33,"y":7,"z":49},{"x":34,"y":7,"z":48},{"x":35,"y":7,"z":48},{"x":36,"y":7,"z":47},{"x":37,"y":7,"z":49},{"x":38,"y":7,"z":50},{"x":39,"y":7,"z":52},{"x":40,"y":7,"z":53},
{"x":0,"y":6,"z":90},{"x":1,"y":6,"z":90},{"x":2,"y":6,"z":89},{"x":3,"y":6,"z":89},{"x":4,"y":6,"z":88},{"x":5,"y":6,"z":88},{"x":6,"y":6,"z":87},{"x":7,"y":6,"z":87},{"x":8,"y":6,"z":86},{"x":9,"y":6,"z":86},{"x":10,"y":6,"z":85},{"x":11,"y":6,"z":85},{"x":12,"y":6,"z":84},{"x":13,"y":6,"z":84},{"x":14,"y":6,"z":83},{"x":15,"y":6,"z":83},{"x":16,"y":6,"z":82},{"x":17,"y":6,"z":82},{"x":18,"y":6,"z":81},{"x":19,"y":6,"z":80},{"x":20,"y":6,"z":79},{"x":21,"y":6,"z":78},{"x":22,"y":6,"z":76},{"x":23,"y":6,"z":74},{"x":24,"y":6,"z":71},{"x":25,"y":6,"z":68},{"x":26,"y":6,"z":65},{"x":27,"y":6,"z":62},{"x":28,"y":6,"z":58},{"x":29,"y":6,"z":56},{"x":30,"y":6,"z":54},{"x":31,"y":6,"z":52},{"x":32,"y":6,"z":50},{"x":33,"y":6,"z":50},{"x":34,"y":6,"z":49},{"x":35,"y":6,"z":48},{"x":36,"y":6,"z":47},{"x":37,"y":6,"z":49},{"x":38,"y":6,"z":50},{"x":39,"y":6,"z":52},{"x":40,"y":6,"z":53},
{"x":0,"y":5,"z":92},{"x":1,"y":5,"z":92},{"x":2,"y":5,"z":91},{"x":3,"y":5,"z":91},{"x":4,"y":5,"z":90},{"x":5,"y":5,"z":90},{"x":6,"y":5,"z":89},{"x":7,"y":5,"z":89},{"x":8,"y":5,"z":88},{"x":9,"y":5,"z":88},{"x":10,"y":5,"z":87},{"x":11,"y":5,"z":87},{"x":12,"y":5,"z":86},{"x":13,"y":5,"z":86},{"x":14,"y":5,"z":85},{"x":15,"y":5,"z":85},{"x":16,"y":5,"z":84},{"x":17,"y":5,"z":84},{"x":18,"y":5,"z":83},{"x":19,"y":5,"z":82},{"x":20,"y":5,"z":81},{"x":21,"y":5,"z":80},{"x":22,"y":5,"z":78},{"x":23,"y":5,"z":76},{"x":24,"y":5,"z":73},{"x":25,"y":5,"z":70},{"x":26,"y":5,"z":67},{"x":27,"y":5,"z":64},{"x":28,"y":5,"z":60},{"x":29,"y":5,"z":58},{"x":30,"y":5,"z":56},{"x":31,"y":5,"z":54},{"x":32,"y":5,"z":51},{"x":33,"y":5,"z":51},{"x":34,"y":5,"z":50},{"x":35,"y":5,"z":49},{"x":36,"y":5,"z":48},{"x":37,"y":5,"z":49},{"x":38,"y":5,"z":50},{"x":39,"y":5,"z":52},{"x":40,"y":5,"z":53},
{"x":0,"y":4,"z":94},{"x":1,"y":4,"z":94},{"x":2,"y":4,"z":93},{"x":3,"y":4,"z":93},{"x":4,"y":4,"z":92},{"x":5,"y":4,"z":92},{"x":6,"y":4,"z":91},{"x":7,"y":4,"z":91},{"x":8,"y":4,"z":90},{"x":9,"y":4,"z":90},{"x":10,"y":4,"z":89},{"x":11,"y":4,"z":89},{"x":12,"y":4,"z":88},{"x":13,"y":4,"z":88},{"x":14,"y":4,"z":87},{"x":15,"y":4,"z":86},{"x":16,"y":4,"z":85},{"x":17,"y":4,"z":85},{"x":18,"y":4,"z":84},{"x":19,"y":4,"z":83},{"x":20,"y":4,"z":82},{"x":21,"y":4,"z":81},{"x":22,"y":4,"z":79},{"x":23,"y":4,"z":77},{"x":24,"y":4,"z":75},{"x":25,"y":4,"z":72},{"x":26,"y":4,"z":69},{"x":27,"y":4,"z":66},{"x":28,"y":4,"z":62},{"x":29,"y":4,"z":60},{"x":30,"y":4,"z":57},{"x":31,"y":4,"z":55},{"x":32,"y":4,"z":52},{"x":33,"y":4,"z":51},{"x":34,"y":4,"z":50},{"x":35,"y":4,"z":49},{"x":36,"y":4,"z":48},{"x":37,"y":4,"z":49},{"x":38,"y":4,"z":50},{"x":39,"y":4,"z":51},{"x":40,"y":4,"z":52},
{"x":0,"y":3,"z":96},{"x":1,"y":3,"z":96},{"x":2,"y":3,"z":95},{"x":3,"y":3,"z":95},{"x":4,"y":3,"z":94},{"x":5,"y":3,"z":94},{"x":6,"y":3,"z":93},{"x":7,"y":3,"z":93},{"x":8,"y":3,"z":92},{"x":9,"y":3,"z":92},{"x":10,"y":3,"z":91},{"x":11,"y":3,"z":90},{"x":12,"y":3,"z":89},{"x":13,"y":3,"z":89},{"x":14,"y":3,"z":88},{"x":15,"y":3,"z":88},{"x":16,"y":3,"z":87},{"x":17,"y":3,"z":87},{"x":18,"y":3,"z":86},{"x":19,"y":3,"z":85},{"x":20,"y":3,"z":84},{"x":21,"y":3,"z":82},{"x":22,"y":3,"z":80},{"x":23,"y":3,"z":78},{"x":24,"y":3,"z":76},{"x":25,"y":3,"z":74},{"x":26,"y":3,"z":71},{"x":27,"y":3,"z":68},{"x":28,"y":3,"z":64},{"x":29,"y":3,"z":62},{"x":30,"y":3,"z":59},{"x":31,"y":3,"z":57},{"x":32,"y":3,"z":54},{"x":33,"y":3,"z":53},{"x":34,"y":3,"z":52},{"x":35,"y":3,"z":51},{"x":36,"y":3,"z":49},{"x":37,"y":3,"z":50},{"x":38,"y":3,"z":51},{"x":39,"y":3,"z":52},{"x":40,"y":3,"z":53},
{"x":0,"y":2,"z":97},{"x":1,"y":2,"z":97},{"x":2,"y":2,"z":96},{"x":3,"y":2,"z":96},{"x":4,"y":2,"z":95},{"x":5,"y":2,"z":95},{"x":6,"y":2,"z":94},{"x":7,"y":2,"z":94},{"x":8,"y":2,"z":93},{"x":9,"y":2,"z":93},{"x":10,"y":2,"z":92},{"x":11,"y":2,"z":91},{"x":12,"y":2,"z":90},{"x":13,"y":2,"z":90},{"x":14,"y":2,"z":89},{"x":15,"y":2,"z":89},{"x":16,"y":2,"z":88},{"x":17,"y":2,"z":88},{"x":18,"y":2,"z":87},{"x":19,"y":2,"z":86},{"x":20,"y":2,"z":85},{"x":21,"y":2,"z":83},{"x":22,"y":2,"z":81},{"x":23,"y":2,"z":79},{"x":24,"y":2,"z":77},{"x":25,"y":2,"z":75},{"x":26,"y":2,"z":72},{"x":27,"y":2,"z":69},{"x":28,"y":2,"z":65},{"x":29,"y":2,"z":63},{"x":30,"y":2,"z":60},{"x":31,"y":2,"z":58},{"x":32,"y":2,"z":55},{"x":33,"y":2,"z":54},{"x":34,"y":2,"z":53},{"x":35,"y":2,"z":52},{"x":36,"y":2,"z":50},{"x":37,"y":2,"z":51},{"x":38,"y":2,"z":52},{"x":39,"y":2,"z":53},{"x":40,"y":2,"z":53},
{"x":0,"y":1,"z":98},{"x":1,"y":1,"z":98},{"x":2,"y":1,"z":97},{"x":3,"y":1,"z":97},{"x":4,"y":1,"z":96},{"x":5,"y":1,"z":96},{"x":6,"y":1,"z":95},{"x":7,"y":1,"z":95},{"x":8,"y":1,"z":94},{"x":9,"y":1,"z":94},{"x":10,"y":1,"z":93},{"x":11,"y":1,"z":92},{"x":12,"y":1,"z":91},{"x":13,"y":1,"z":91},{"x":14,"y":1,"z":90},{"x":15,"y":1,"z":90},{"x":16,"y":1,"z":89},{"x":17,"y":1,"z":89},{"x":18,"y":1,"z":88},{"x":19,"y":1,"z":87},{"x":20,"y":1,"z":86},{"x":21,"y":1,"z":84},{"x":22,"y":1,"z":82},{"x":23,"y":1,"z":80},{"x":24,"y":1,"z":78},{"x":25,"y":1,"z":76},{"x":26,"y":1,"z":73},{"x":27,"y":1,"z":70},{"x":28,"y":1,"z":67},{"x":29,"y":1,"z":65},{"x":30,"y":1,"z":62},{"x":31,"y":1,"z":59},{"x":32,"y":1,"z":56},{"x":33,"y":1,"z":55},{"x":34,"y":1,"z":54},{"x":35,"y":1,"z":53},{"x":36,"y":1,"z":51},{"x":37,"y":1,"z":52},{"x":38,"y":1,"z":53},{"x":39,"y":1,"z":53},{"x":40,"y":1,"z":53},
{"x":0,"y":0,"z":99},{"x":1,"y":0,"z":99},{"x":2,"y":0,"z":98},{"x":3,"y":0,"z":98},{"x":4,"y":0,"z":97},{"x":5,"y":0,"z":97},{"x":6,"y":0,"z":96},{"x":7,"y":0,"z":96},{"x":8,"y":0,"z":95},{"x":9,"y":0,"z":95},{"x":10,"y":0,"z":94},{"x":11,"y":0,"z":93},{"x":12,"y":0,"z":92},{"x":13,"y":0,"z":92},{"x":14,"y":0,"z":91},{"x":15,"y":0,"z":91},{"x":16,"y":0,"z":90},{"x":17,"y":0,"z":90},{"x":18,"y":0,"z":89},{"x":19,"y":0,"z":88},{"x":20,"y":0,"z":87},{"x":21,"y":0,"z":85},{"x":22,"y":0,"z":83},{"x":23,"y":0,"z":81},{"x":24,"y":0,"z":79},{"x":25,"y":0,"z":77},{"x":26,"y":0,"z":74},{"x":27,"y":0,"z":71},{"x":28,"y":0,"z":68},{"x":29,"y":0,"z":66},{"x":30,"y":0,"z":63},{"x":31,"y":0,"z":60},{"x":32,"y":0,"z":57},{"x":33,"y":0,"z":56},{"x":34,"y":0,"z":55},{"x":35,"y":0,"z":54},{"x":36,"y":0,"z":52},{"x":37,"y":0,"z":53},{"x":38,"y":0,"z":53},{"x":39,"y":0,"z":53},{"x":40,"y":0,"z":53}
],
"path":[
{"step":0,"x":26.72,"y":38.5},
{"step":1,"x":17.04,"y":25.38},
{"step":2,"x":11.02,"y":29.46},
{"step":3,"x":9.78,"y":27.76},
{"step":4,"x":8.18,"y":28.66},
{"step":5,"x":7.72,"y":28.16}
],
"labels":[
{"t":"Steepest Descent","x":20,"y":41.89},
{"t":"a)","x":-6.43,"y":41.86},
{"t":"θ","x":-5.55,"y":19.1},
{"t":"2","x":-3.48,"y":17.81},
{"t":"5 Iterations","x":1.04,"y":0.9}
]
},
"layer":[
{"data":{"name":"grid"},
 "mark":{"type":"rect","width":11.1,"height":10.5,"clip":true},
 "encoding":{
  "x":{"field":"x","type":"quantitative","scale":{"domain":[0,40],"nice":false,"zero":false},"axis":null},
  "y":{"field":"y","type":"quantitative","scale":{"domain":[0,40],"nice":false,"zero":false},"axis":null},
  "color":{"field":"z","type":"quantitative",
           "scale":{"domain":[0,36.5,74.6,100],"range":["#0b0000","#ff0000","#ffff00","#ffffff"],"interpolate":"rgb"},
           "legend":null}
 }},
{"data":{"name":"path"},
 "transform":[{"filter":"datum.step === 5"}],
 "mark":{"type":"point","shape":"M-1,-0.34H-0.34V-1H0.34V-0.34H1V0.34H0.34V1H-0.34V0.34H-1Z","size":740,"filled":true,"opacity":1,"color":"#00ff00","strokeWidth":0},
 "encoding":{"x":{"field":"x","type":"quantitative","axis":null},"y":{"field":"y","type":"quantitative","axis":null}}},
{"data":{"name":"path"},
 "mark":{"type":"line","color":"#ffffff","strokeWidth":5.5,"strokeJoin":"miter","strokeCap":"butt"},
 "encoding":{"x":{"field":"x","type":"quantitative","axis":null},"y":{"field":"y","type":"quantitative","axis":null},"order":{"field":"step","type":"quantitative"}}},
{"data":{"name":"path"},
 "transform":[{"filter":"datum.step === 0"}],
 "mark":{"type":"point","shape":"M-1,-0.34H-0.34V-1H0.34V-0.34H1V0.34H0.34V1H-0.34V0.34H-1Z","size":800,"filled":true,"opacity":1,"color":"#0000ff","strokeWidth":0},
 "encoding":{"x":{"field":"x","type":"quantitative","axis":null},"y":{"field":"y","type":"quantitative","axis":null}}},
{"data":{"name":"labels"},
 "transform":[{"filter":"datum.t === 'Steepest Descent'"}],
 "mark":{"type":"text","font":"Liberation Serif","fontSize":37,"align":"center","baseline":"alphabetic","color":"#000000"},
 "encoding":{"x":{"field":"x","type":"quantitative","axis":null},"y":{"field":"y","type":"quantitative","axis":null},"text":{"field":"t"}}},
{"data":{"name":"labels"},
 "transform":[{"filter":"datum.t === 'a)'"}],
 "mark":{"type":"text","font":"Liberation Sans","fontSize":43,"align":"left","baseline":"alphabetic","color":"#000000"},
 "encoding":{"x":{"field":"x","type":"quantitative","axis":null},"y":{"field":"y","type":"quantitative","axis":null},"text":{"field":"t"}}},
{"data":{"name":"labels"},
 "transform":[{"filter":"datum.t === 'θ'"}],
 "mark":{"type":"text","font":"Liberation Serif","fontStyle":"italic","fontSize":44,"align":"left","baseline":"alphabetic","color":"#000000"},
 "encoding":{"x":{"field":"x","type":"quantitative","axis":null},"y":{"field":"y","type":"quantitative","axis":null},"text":{"field":"t"}}},
{"data":{"name":"labels"},
 "transform":[{"filter":"datum.t === '2'"}],
 "mark":{"type":"text","font":"Liberation Serif","fontSize":29,"align":"left","baseline":"alphabetic","color":"#000000"},
 "encoding":{"x":{"field":"x","type":"quantitative","axis":null},"y":{"field":"y","type":"quantitative","axis":null},"text":{"field":"t"}}},
{"data":{"name":"labels"},
 "transform":[{"filter":"datum.t === '5 Iterations'"}],
 "mark":{"type":"text","font":"Liberation Serif","fontSize":36,"align":"left","baseline":"alphabetic","color":"#000000"},
 "encoding":{"x":{"field":"x","type":"quantitative","axis":null},"y":{"field":"y","type":"quantitative","axis":null},"text":{"field":"t"}}}
]
}
